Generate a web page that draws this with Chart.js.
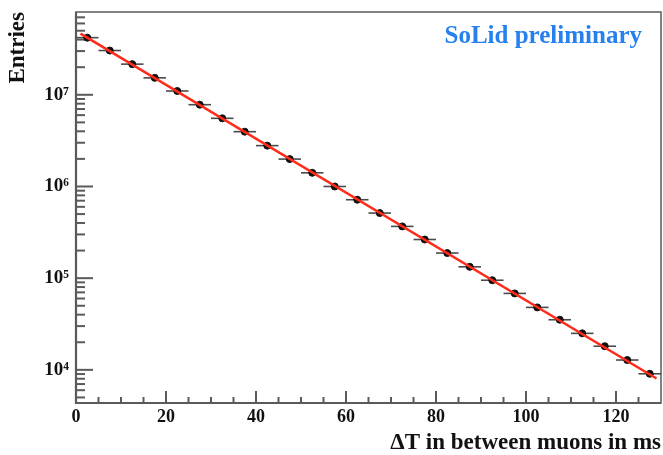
<!DOCTYPE html>
<html>
<head>
<meta charset="utf-8">
<script src="https://cdn.jsdelivr.net/npm/chart.js@4"></script>
<style>
  body { margin: 0; background: #fff; }
  canvas { display: block; }
</style>
</head>
<body>
<canvas id="muonChart" width="663" height="455"></canvas>
<script>
// bin centres (ms) and entries
const binCenters = [2.5, 7.5, 12.5, 17.5, 22.5, 27.5, 32.5, 37.5, 42.5, 47.5, 52.5, 57.5, 62.5,
                    67.5, 72.5, 77.5, 82.5, 87.5, 92.5, 97.5, 102.5, 107.5, 112.5, 117.5, 122.5, 127.5];
const entries = [4.2e7, 3.04e7, 2.16e7, 1.53e7, 1.10e7, 7.8e6, 5.54e6, 3.96e6, 2.79e6, 1.99e6, 1.41e6, 1.0e6, 7.17e5,
                 5.13e5, 3.67e5, 2.64e5, 1.88e5, 1.33e5, 9.5e4, 6.82e4, 4.8e4, 3.52e4, 2.5e4, 1.81e4, 1.28e4, 9.06e3];
const binHalfWidth = 2.5;

// exponential fit, end points of the fitted range
const fitX = [1, 129];
const fitY = [4.65e7, 8.05e3];

const yDecades = [1e4, 1e5, 1e6, 1e7];
const yDecadeLabels = ['10⁴', '10⁵', '10⁶', '10⁷'];
const xMajorStep = 20;

const serif = "'Liberation Serif', 'DejaVu Serif', serif";
const axisColor = '#5a5a5a';

const histPoints = binCenters.map((x, i) => ({ x: x, y: entries[i] }));
const fitPoints = fitX.map((x, i) => ({ x: x, y: fitY[i] }));

// keep the plot frame where it is in the original
function fixBox(scale, w, h) {
    if (w) scale.width = w;
    if (h) scale.height = h;
    scale.paddingTop = 0;
    scale.paddingBottom = 0;
    scale.paddingLeft = 0;
    scale.paddingRight = 0;
}

// ROOT style frame, inward ticks, horizontal error bars, label
const rootStyle = {
    id: 'rootStyle',
    beforeDatasetsDraw(chart) {
        const { ctx, chartArea: a, scales: { x, y } } = chart;
        ctx.save();
        ctx.strokeStyle = axisColor;
        ctx.lineWidth = 1.5;
        ctx.strokeRect(a.left, a.top, a.right - a.left, a.bottom - a.top);

        // y ticks
        ctx.lineWidth = 2;
        y.ticks.forEach(t => {
            const v = t.value;
            if (v <= y.min || v >= y.max) return;
            const e = Math.floor(Math.log10(v) + 1e-9);
            const sig = v / Math.pow(10, e);
            if (Math.abs(sig - Math.round(sig)) > 1e-6) return;
            const len = Math.round(sig) === 1 ? 17 : 9;
            const py = y.getPixelForValue(v);
            ctx.beginPath();
            ctx.moveTo(a.left, py);
            ctx.lineTo(a.left + len, py);
            ctx.stroke();
        });

        // x ticks
        x.ticks.forEach(t => {
            const v = t.value;
            if (v <= x.min || v >= x.max) return;
            const len = v % xMajorStep === 0 ? 12 : 6;
            const px = x.getPixelForValue(v);
            ctx.beginPath();
            ctx.moveTo(px, a.bottom);
            ctx.lineTo(px, a.bottom - len);
            ctx.stroke();
        });

        // left / bottom axis lines
        ctx.lineWidth = 2.2;
        ctx.beginPath();
        ctx.moveTo(a.left, a.top);
        ctx.lineTo(a.left, a.bottom);
        ctx.lineTo(a.right, a.bottom);
        ctx.stroke();

        // horizontal error bars (bin width)
        ctx.beginPath();
        ctx.rect(a.left, a.top, a.right - a.left, a.bottom - a.top);
        ctx.clip();
        ctx.strokeStyle = '#4a4a4a';
        ctx.lineWidth = 1.6;
        histPoints.forEach(p => {
            const py = y.getPixelForValue(p.y);
            ctx.beginPath();
            ctx.moveTo(x.getPixelForValue(p.x - binHalfWidth), py);
            ctx.lineTo(x.getPixelForValue(p.x + binHalfWidth), py);
            ctx.stroke();
        });
        ctx.restore();
    },
    afterDraw(chart) {
        const { ctx } = chart;
        ctx.save();
        ctx.fillStyle = '#2680f0';
        ctx.font = 'bold 25px ' + serif;
        ctx.textAlign = 'right';
        ctx.textBaseline = 'alphabetic';
        ctx.fillText('SoLid preliminary', 642, 43);
        ctx.restore();
    }
};

const ctx = document.getElementById('muonChart').getContext('2d');
const chart = new Chart(ctx, {
    type: 'scatter',
    data: {
        datasets: [{
            type: 'line',
            label: 'fit',
            data: fitPoints,
            borderColor: '#ff2a1a',
            borderWidth: 2.5,
            pointRadius: 0,
            fill: false,
            tension: 0
        }, {
            label: 'Entries',
            data: histPoints,
            backgroundColor: '#111',
            borderColor: '#111',
            pointRadius: 3.5,
            pointHoverRadius: 3.5,
            showLine: false
        }]
    },
    options: {
        responsive: false,
        animation: false,
        layout: { autoPadding: false, padding: { left: 0, right: 2, top: 12, bottom: 0 } },
        plugins: {
            legend: { display: false },
            tooltip: { enabled: false }
        },
        scales: {
            x: {
                type: 'linear',
                min: 0,
                max: 130,
                afterFit(scale) { fixBox(scale, 0, 52); },
                grid: { display: false, drawTicks: false },
                border: { display: false },
                ticks: {
                    stepSize: 5,
                    autoSkip: false,
                    maxRotation: 0,
                    padding: 4,
                    color: '#111',
                    font: { family: serif, size: 18, weight: 'bold' },
                    callback: v => (v % xMajorStep === 0 && v < 130 ? String(v) : '')
                },
                title: {
                    display: true,
                    text: 'ΔT in between muons in ms',
                    align: 'end',
                    color: '#111',
                    padding: { top: 0, bottom: -2 },
                    font: { family: serif, size: 23, weight: 'bold' }
                }
            },
            y: {
                type: 'logarithmic',
                min: 4350,
                max: 8e7,
                afterFit(scale) { fixBox(scale, 76, 0); },
                grid: { display: false, drawTicks: false },
                border: { display: false },
                ticks: {
                    autoSkip: false,
                    padding: 7,
                    color: '#111',
                    font: { family: serif, size: 19, weight: 'bold' },
                    callback: v => {
                        const i = yDecades.findIndex(d => Math.abs(d - v) / d < 1e-9);
                        return i >= 0 ? yDecadeLabels[i] : '';
                    }
                },
                title: {
                    display: true,
                    text: 'Entries',
                    align: 'end',
                    color: '#111',
                    padding: { top: 4, bottom: 0 },
                    font: { family: serif, size: 23, weight: 'bold' }
                }
            }
        }
    },
    plugins: [rootStyle]
});
</script>
</body>
</html>
